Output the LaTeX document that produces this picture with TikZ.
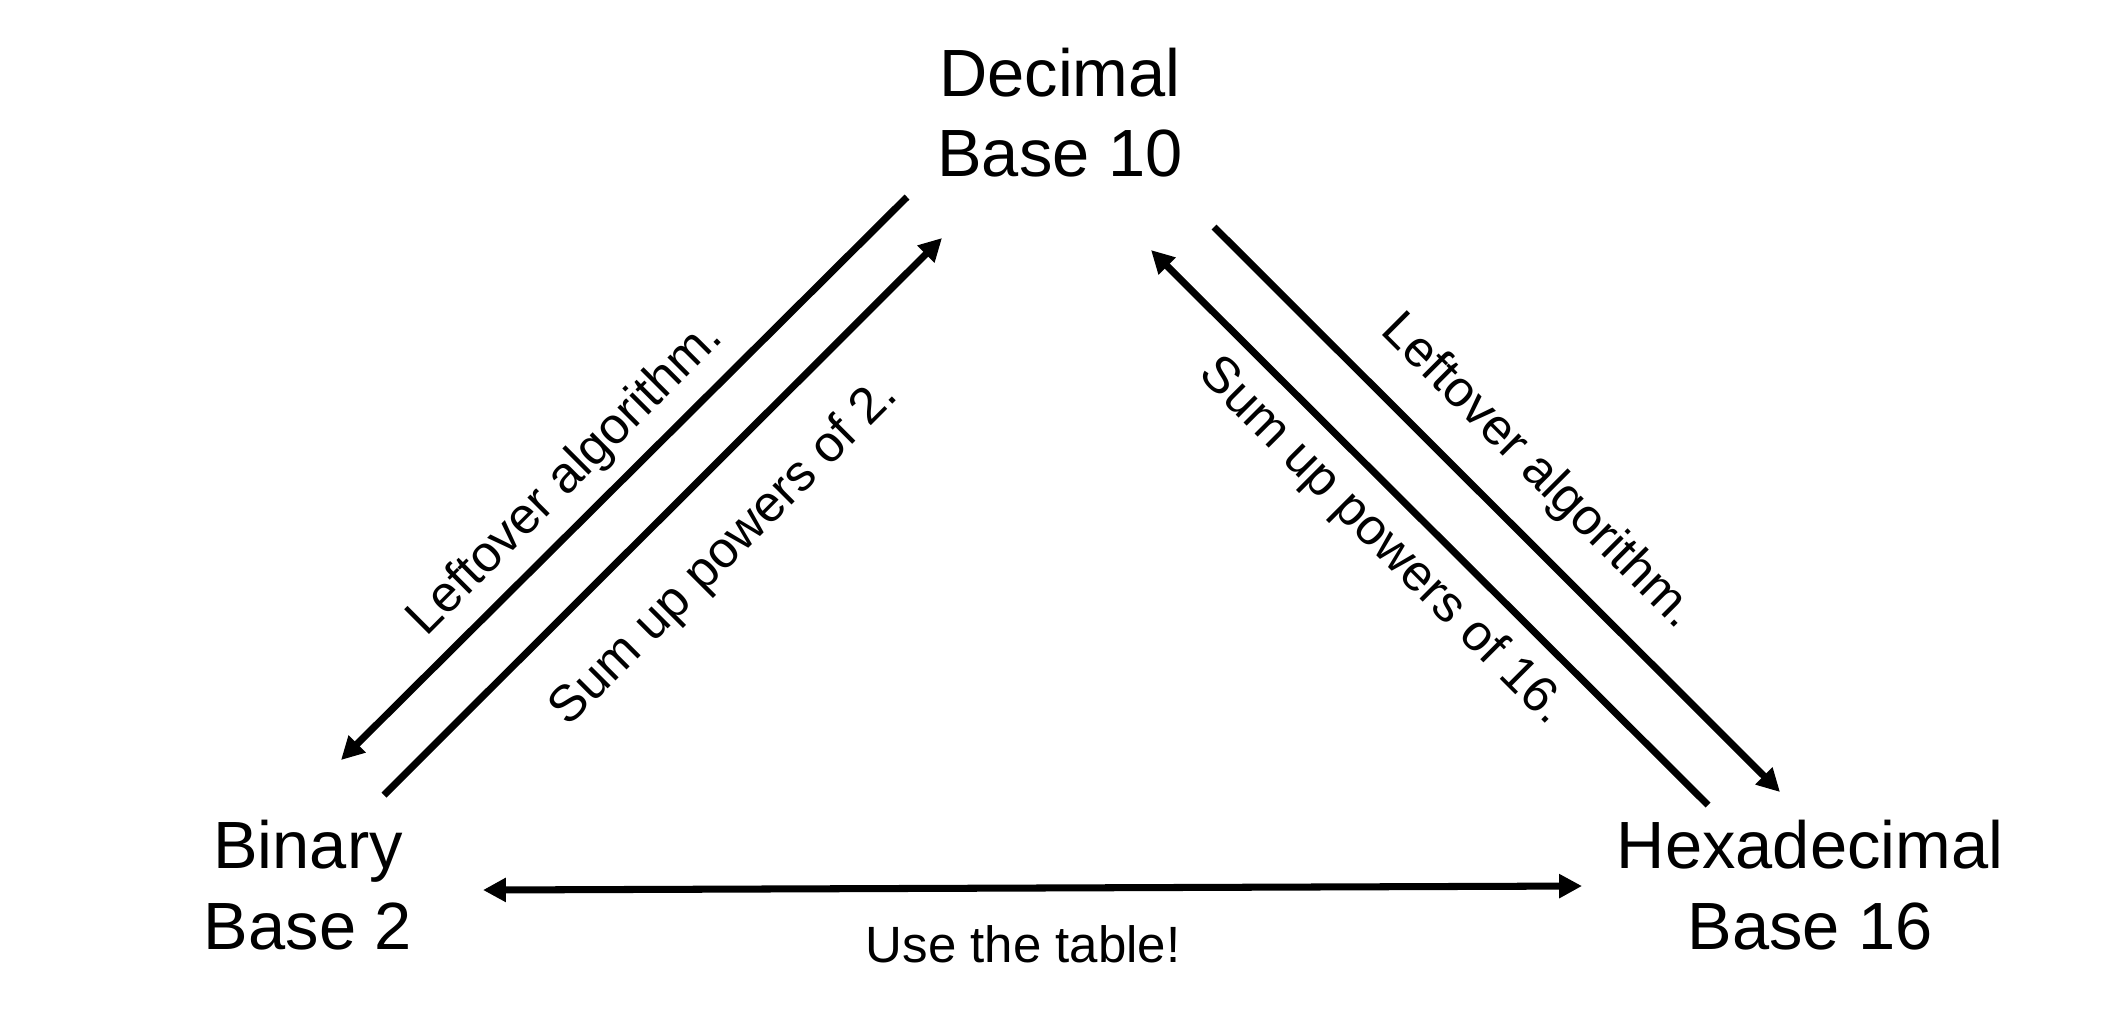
\documentclass[tikz,border=0pt]{standalone}
\usepackage{fontspec}
\setmainfont{Liberation Sans}
\usetikzlibrary{arrows.meta}

\begin{document}
\begin{tikzpicture}[x=0.01cm, y=-0.01cm,
    base/.style={font=\fontsize{19}{22.8}\selectfont, align=center, inner sep=0pt},
    note/.style={font=\fontsize{14.5}{17}\selectfont, inner sep=0pt},
    conv/.style={line width=2pt, -{Triangle[length=6.5pt,width=6.5pt]}},
    both/.style={line width=2pt, {Triangle[length=6.5pt,width=6.5pt]}-{Triangle[length=6.5pt,width=6.5pt]}}]
    \useasboundingbox (0,0) rectangle (2125,1035);

    \node[base] (dec) at (1060,113) {Decimal\\Base 10};
    \node[base] (bin) at (308,885) {Binary\\Base 2};
    \node[base] (hex) at (1810,885) {Hexadecimal\\Base 16};

    \coordinate (DB1) at (907,197);
    \coordinate (DB2) at (341,760);
    \coordinate (BD1) at (384,795);
    \coordinate (BD2) at (942,238);
    \coordinate (HD1) at (1708,805);
    \coordinate (HD2) at (1151,250);
    \coordinate (DH1) at (1214,227);
    \coordinate (DH2) at (1780,792);
    \coordinate (BH1) at (483,890);
    \coordinate (BH2) at (1582,886);

    \draw[conv] (DB1) -- (DB2);
    \draw[conv] (BD1) -- (BD2);
    \draw[conv] (HD1) -- (HD2);
    \draw[conv] (DH1) -- (DH2);
    \draw[both] (BH1) -- (BH2);

    \node[note, rotate=45] (l2b) at (566,479) {Leftover algorithm.};
    \node[note, rotate=45] (s2d) at (725,553) {Sum up powers of 2.};
    \node[note, rotate=-45] (l2h) at (1538,472) {Leftover algorithm.};
    \node[note, rotate=-45] (s16d) at (1382,542) {Sum up powers of 16.};
    \node[note] (tab) at (1023,944) {Use the table!};
\end{tikzpicture}
\end{document}
